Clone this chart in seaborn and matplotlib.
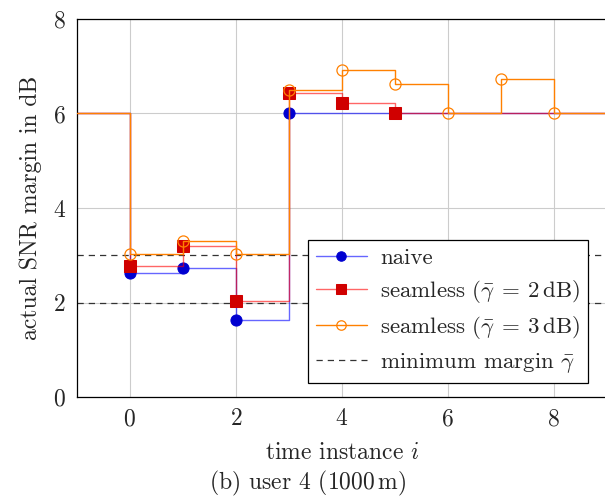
import matplotlib
matplotlib.use("Agg")
import matplotlib.pyplot as plt
import seaborn as sns
import pandas as pd

# time instances (step plot, value holds until next instance)
steps = [-1, 0, 1, 2, 3, 4, 5, 6, 7, 8, 9]
naive = [6, 2.62, 2.73, 1.63, 6.0, 6.0, 6.0, 6.0, 6.0, 6.0, 6.0]
seamless_2 = [6, 2.77, 3.2, 2.03, 6.43, 6.23, 6.0, 6.0, 6.0, 6.0, 6.0]
seamless_3 = [6, 3.03, 3.3, 3.03, 6.5, 6.92, 6.62, 6.0, 6.72, 6.0, 6.0]
min_margins = [2, 3]

sns.set_style("white")
plt.rcParams["font.family"] = "serif"
plt.rcParams["font.serif"] = ["cmr10"]
plt.rcParams["mathtext.fontset"] = "cm"
plt.rcParams["axes.unicode_minus"] = False
plt.rcParams["axes.formatter.use_mathtext"] = True

df = pd.DataFrame({"i": steps, "naive": naive, "s2": seamless_2, "s3": seamless_3})

fig = plt.figure(figsize=(6.05, 4.97), dpi=100)
ax = fig.add_axes([0.127, 0.201, 0.876, 0.761])

lab_n = "naive"
lab_2 = r"seamless ($\bar{\gamma}\:=\:2\,\mathrm{dB}$)"
lab_3 = r"seamless ($\bar{\gamma}\:=\:3\,\mathrm{dB}$)"
lab_m = r"minimum margin $\bar{\gamma}$"

# minimum margin lines
for k, m in enumerate(min_margins):
    ax.axhline(m, color="#333333", lw=0.9, ls=(0, (5, 4)), zorder=1.5,
               label=lab_m if k == 0 else None)

sns.lineplot(data=df, x="i", y="naive", ax=ax, drawstyle="steps-post",
             color=(0, 0, 1, 0.6), lw=1.0, marker="o", markersize=8,
             mfc="#0000d0", mec="#0000d0", markevery=[1, 2, 3, 4],
             label=lab_n, zorder=2)
sns.lineplot(data=df, x="i", y="s2", ax=ax, drawstyle="steps-post",
             color=(1, 0, 0, 0.6), lw=1.0, marker="s", markersize=8,
             mfc="#d00000", mec="#d00000", markevery=[1, 2, 3, 4, 5, 6],
             label=lab_2, zorder=3)
sns.lineplot(data=df, x="i", y="s3", ax=ax, drawstyle="steps-post",
             color="#ff8000", lw=1.0, marker="o", markersize=8,
             mfc="none", mec="#ff8000", mew=0.9,
             markevery=[1, 2, 3, 4, 5, 6, 7, 8, 9],
             label=lab_3, zorder=4)

ax.set_xlim(-1, 9)
ax.set_ylim(0, 8)
ax.set_xticks([0, 2, 4, 6, 8])
ax.set_yticks([0, 2, 4, 6, 8])
ax.grid(True, color="#cccccc", lw=0.8)
ax.set_axisbelow(True)
ax.tick_params(direction="in", length=4, color="#888888", labelsize=17, pad=8)
for s in ax.spines.values():
    s.set_color("black")
    s.set_linewidth(0.9)

ax.set_xlabel(r"time instance $i$", fontsize=17, labelpad=8)
ax.set_ylabel("actual SNR margin in dB", fontsize=17, labelpad=8)

handles, labels = ax.get_legend_handles_labels()
order = [labels.index(lab_n), labels.index(lab_2),
         labels.index(lab_3), labels.index(lab_m)]
leg = ax.legend([handles[k] for k in order], [labels[k] for k in order],
                loc="lower right", bbox_to_anchor=(0.965, 0.037),
                fontsize=16.5, fancybox=False, framealpha=1, edgecolor="black",
                borderaxespad=0, handlelength=2.2, labelspacing=0.42,
                borderpad=0.35, handletextpad=0.6, markerscale=0.85)
leg.get_frame().set_linewidth(0.9)

fig.text(0.508, 0.015, r"(b) user 4 ($1000\,\mathrm{m}$)", ha="center",
         fontsize=17)

fig.savefig("out.png", dpi=100)
